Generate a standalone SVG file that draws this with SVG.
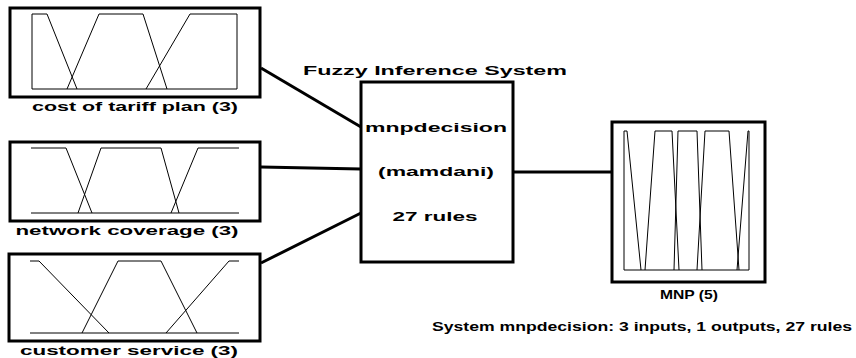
<svg xmlns="http://www.w3.org/2000/svg" width="856" height="358" viewBox="0 0 856 358">
<style>
.frame{fill:#fff;stroke:#000;stroke-width:3}
.mf{fill:none;stroke:#000;stroke-width:1}
.conn{stroke:#000;stroke-width:3;fill:none}
text{font-family:"Liberation Sans",Arial,sans-serif;font-weight:bold;font-size:13px;fill:#000}
.c{text-anchor:middle}
.lbl{font-size:12px}
</style>
<rect width="856" height="358" fill="#fff"/>
<g id="connectors">
<line class="conn" x1="261" y1="68" x2="361" y2="127"/>
<line class="conn" x1="261" y1="167" x2="361" y2="169"/>
<line class="conn" x1="261" y1="263" x2="361" y2="213"/>
<line class="conn" x1="513" y1="172" x2="612" y2="172"/>
</g>
<g id="input1">
<rect class="frame" x="10" y="8" width="250" height="89"/>
<polyline class="mf" points="32,89 32,14 47,14 77,89"/>
<polyline class="mf" points="67,89 99,14 143,14 167,89"/>
<polyline class="mf" points="146,89 190,14 237,14 237,89"/>
<line class="mf" x1="32" y1="89" x2="237" y2="89"/>
<text x="135" y="111" class="c lbl" textLength="206" lengthAdjust="spacingAndGlyphs">cost of tariff plan (3)</text>
</g>
<g id="input2">
<rect class="frame" x="10" y="142" width="250" height="79"/>
<polyline class="mf" points="31,148 66,148 92,213"/>
<polyline class="mf" points="78,213 101,148 161,148 179,213"/>
<polyline class="mf" points="171,213 198,148 239,148"/>
<line class="mf" x1="31" y1="213" x2="239" y2="213"/>
<text x="127" y="235" class="c lbl" textLength="223" lengthAdjust="spacingAndGlyphs">network coverage (3)</text>
</g>
<g id="input3">
<rect class="frame" x="9" y="254" width="251" height="87"/>
<polyline class="mf" points="30,261 39,261 109,333"/>
<polyline class="mf" points="82,333 118,261 161,261 197,333"/>
<polyline class="mf" points="166,333 229,261 239,261"/>
<line class="mf" x1="30" y1="333" x2="239" y2="333"/>
<text x="129" y="355" class="c lbl" textLength="218" lengthAdjust="spacingAndGlyphs">customer service (3)</text>
</g>
<g id="fis">
<text x="435" y="75" class="c" textLength="264" lengthAdjust="spacingAndGlyphs">Fuzzy Inference System</text>
<rect class="frame" x="361" y="82" width="152" height="180"/>
<text x="436" y="132" class="c" textLength="142" lengthAdjust="spacingAndGlyphs">mnpdecision</text>
<text x="436" y="176" class="c" textLength="116" lengthAdjust="spacingAndGlyphs">(mamdani)</text>
<text x="435" y="221" class="c" textLength="85" lengthAdjust="spacingAndGlyphs">27 rules</text>
</g>
<g id="output">
<rect class="frame" x="612" y="122" width="153" height="160"/>
<polyline class="mf" points="624,270 624,131 627,131 641,270"/>
<polyline class="mf" points="645,270 655,131 672,131 679,270"/>
<polyline class="mf" points="674,270 678,131 697,131 702,270"/>
<polyline class="mf" points="697,270 705,131 729,131 739,270"/>
<polyline class="mf" points="737,270 748,131 749,131 749,270"/>
<line class="mf" x1="624" y1="270" x2="749" y2="270"/>
<text x="689" y="299" class="c" textLength="58" lengthAdjust="spacingAndGlyphs">MNP (5)</text>
</g>
<text x="852" y="331" text-anchor="end" textLength="420" lengthAdjust="spacingAndGlyphs">System mnpdecision: 3 inputs, 1 outputs, 27 rules</text>
</svg>
